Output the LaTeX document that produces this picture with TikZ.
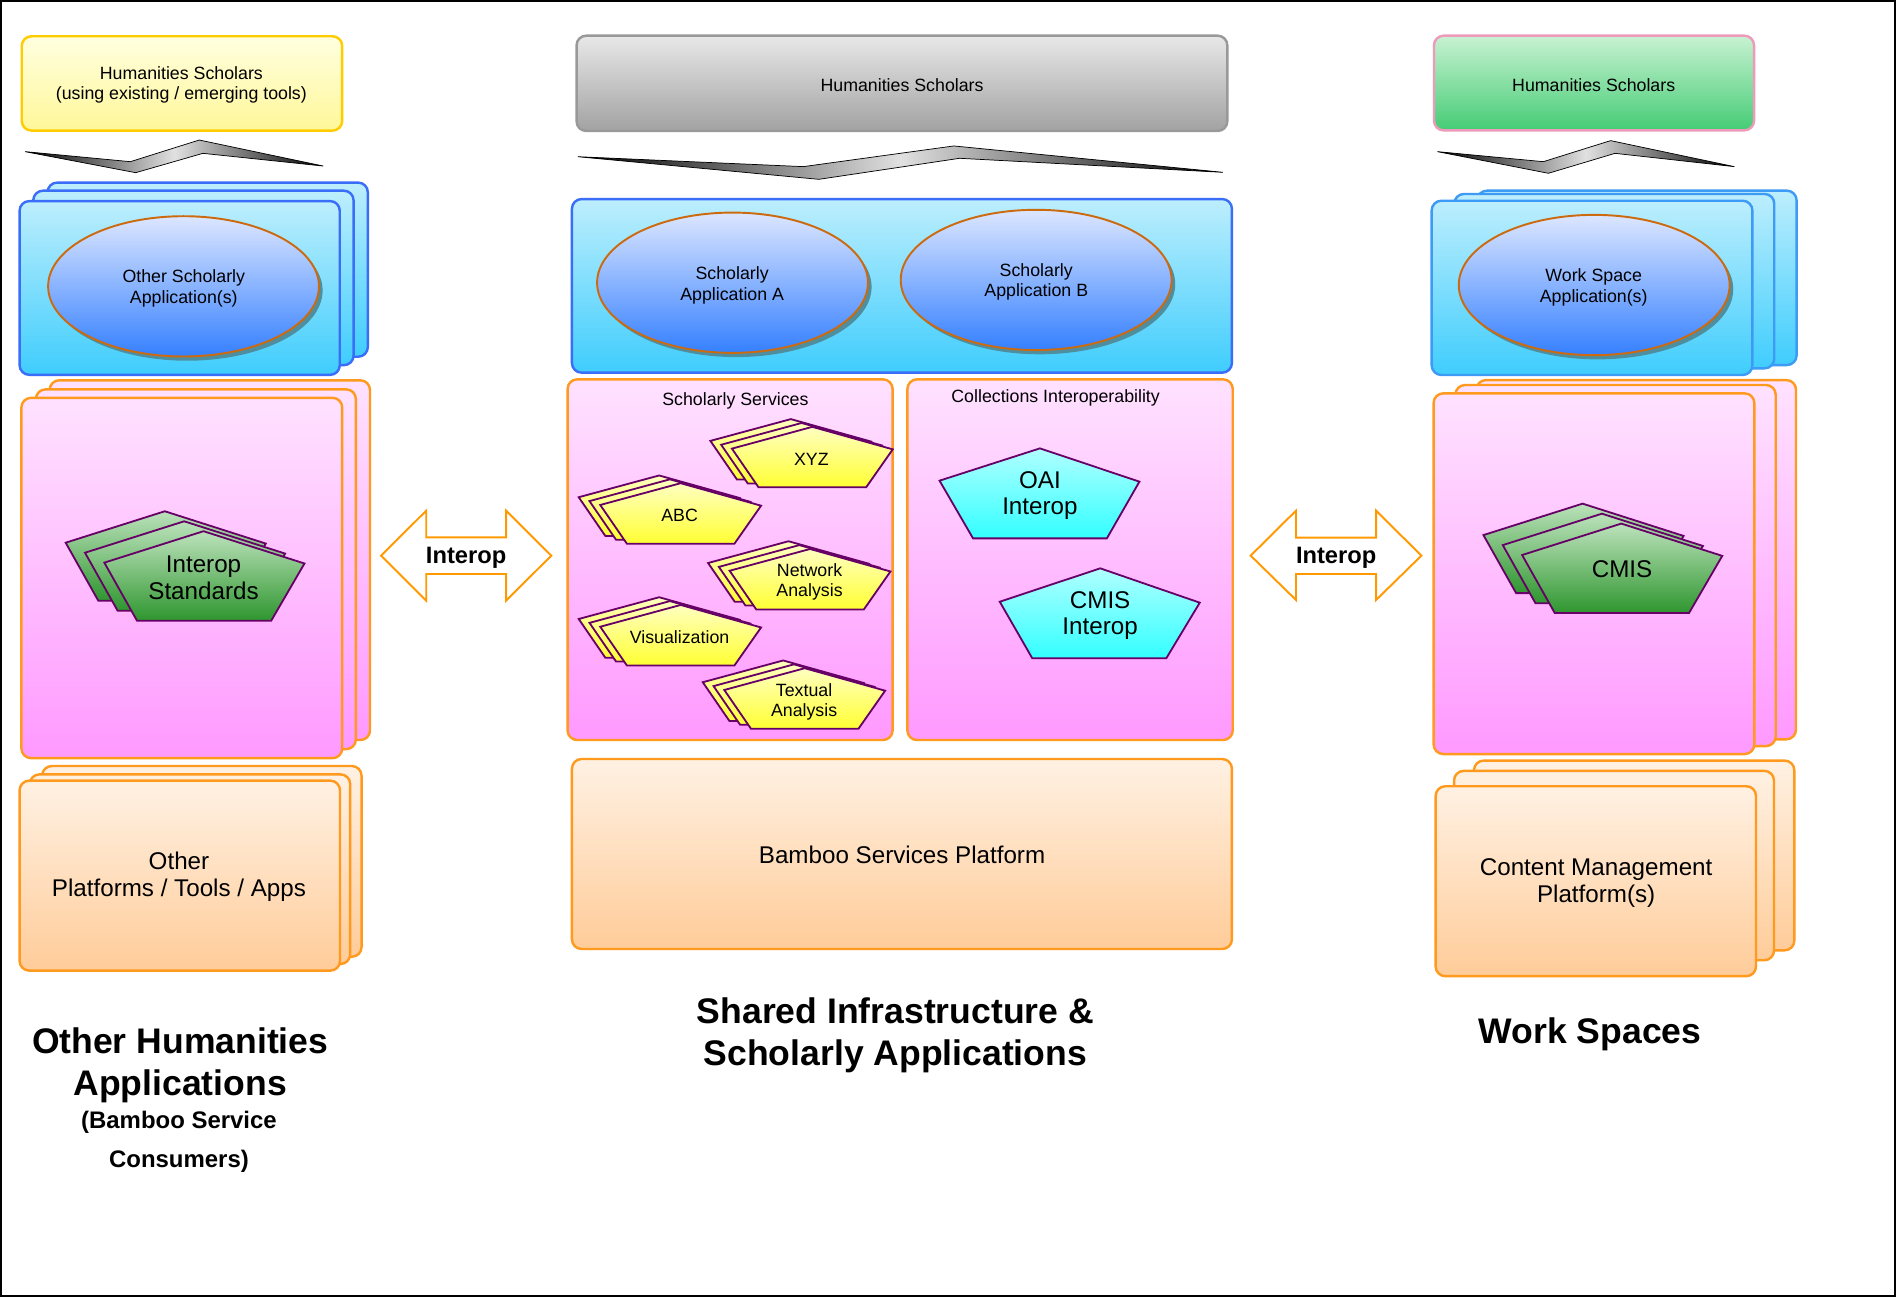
\documentclass[tikz,border=0pt]{standalone}
\usepackage{fontspec}
\setmainfont{Liberation Sans}
\definecolor{pinkT}{HTML}{FFE2FF}
\definecolor{pinkB}{HTML}{FF99FF}
\definecolor{orangeL}{HTML}{FF9A1E}
\definecolor{blueT}{HTML}{BDEEFD}
\definecolor{blueBot}{HTML}{3FCDFD}
\definecolor{blueL}{HTML}{3A6EF8}
\definecolor{blueLb}{HTML}{3D9BF5}
\definecolor{ellT}{HTML}{DCE6FF}
\definecolor{ellBot}{HTML}{3580FF}
\definecolor{ellL}{HTML}{CC6A10}
\definecolor{ellS}{HTML}{4F8E9E}
\definecolor{peachT}{HTML}{FFF1E3}
\definecolor{peachB}{HTML}{FFCC99}
\definecolor{yelT}{HTML}{FFFFE0}
\definecolor{yelB}{HTML}{FFF799}
\definecolor{yelL}{HTML}{FFCC00}
\definecolor{grayT}{HTML}{E8E8E8}
\definecolor{grayB}{HTML}{A2A2A2}
\definecolor{grayL}{HTML}{999999}
\definecolor{grnT}{HTML}{C8F2D2}
\definecolor{grnB}{HTML}{45CC75}
\definecolor{grnL}{HTML}{EE9ABB}
\definecolor{gpT}{HTML}{BCE2BC}
\definecolor{gpB}{HTML}{2E962E}
\definecolor{pentL}{HTML}{660066}
\definecolor{ypT}{HTML}{FFFFC0}
\definecolor{ypB}{HTML}{FFFF33}
\definecolor{cyT}{HTML}{B0FFFF}
\definecolor{cyB}{HTML}{33FFFF}
\definecolor{arrL}{HTML}{FF9900}
\tikzset{
  boxbase/.style={line width=1pt, rounded corners=4pt},
  pinkbox/.style={boxbase, draw=orangeL, top color=pinkT, bottom color=pinkB},
  peachbox/.style={boxbase, draw=orangeL, top color=peachT, bottom color=peachB},
  bluebox/.style={boxbase, draw=blueL, top color=blueT, bottom color=blueBot},
  blueboxb/.style={boxbase, draw=blueLb, top color=blueT, bottom color=blueBot},
  yelbox/.style={boxbase, draw=yelL, top color=yelT, bottom color=yelB},
  graybox/.style={boxbase, draw=grayL, top color=grayT, bottom color=grayB},
  grnbox/.style={boxbase, draw=grnL, top color=grnT, bottom color=grnB},
  ellfill/.style={draw=ellL, line width=0.8pt, top color=ellT, bottom color=ellBot},
  ribbon/.style={left color=black, right color=black, middle color=black!12, draw=black, line width=0.3pt, line join=miter},
  gpent/.style={draw=pentL, line width=0.75pt, top color=gpT, bottom color=gpB, line join=miter},
  ypent/.style={draw=pentL, line width=0.75pt, top color=ypT, bottom color=ypB, line join=miter},
  cpent/.style={draw=pentL, line width=0.75pt, top color=cyT, bottom color=cyB, line join=miter},
  dblarrow/.style={draw=arrL, line width=0.8pt, fill=white, line join=miter},
  smalltxt/.style={font=\fontsize{7.35pt}{8.5pt}\selectfont, align=center, inner sep=0pt, yshift=-0.9pt},
  medtxt/.style={font=\fontsize{10pt}{11pt}\selectfont, align=center, inner sep=0pt, yshift=-1.1pt},
  arrtxt/.style={font=\fontsize{9.8pt}{11pt}\selectfont\bfseries, align=center, inner sep=0pt, yshift=-1pt},
  bigtxt/.style={font=\fontsize{14.7pt}{17.5pt}\selectfont\bfseries, align=center, inner sep=0pt, yshift=-1.8pt},
  subtxt/.style={font=\fontsize{9.9pt}{16pt}\selectfont\bfseries, align=center, inner sep=0pt, yshift=-1.1pt}
}
\newcommand{\ypentat}[2]{\draw[ypent] (#1,#2) -- ++(66.5,-18) -- ++(66.5,18.6) -- ++(-22,31.4) -- ++(-89,0) -- cycle;}
\newcommand{\ystack}[2]{\ypentat{#1-17.8}{#2-6.4}\ypentat{#1-8.9}{#2-3.2}\ypentat{#1}{#2}}
\newcommand{\gpentat}[2]{\draw[gpent] (#1,#2) -- ++(82,-26) -- ++(83.5,26.7) -- ++(-27.5,47.3) -- ++(-111,0) -- cycle;}
\newcommand{\gstack}[2]{\gpentat{#1-32}{#2-16.5}\gpentat{#1-16}{#2-8.2}\gpentat{#1}{#2}}
\newcommand{\appell}[2]{\fill[ellS] (#1+3,#2+3.5) ellipse [x radius=56pt, y radius=29pt];
  \draw[ellfill] (#1,#2) ellipse [x radius=56pt, y radius=29pt];}
\begin{document}
\begin{tikzpicture}[x=0.5pt, y=-0.5pt]
\useasboundingbox (0,0) rectangle (1568,1073);
\fill[white] (0,0) rectangle (1568,1073);

% ================= LEFT COLUMN =================
\draw[yelbox] (18,30) rectangle (283,108);
\node[smalltxt] (lhs) at (150,68.5) {Humanities Scholars\\(using existing / emerging tools)};
\draw[ribbon] (20.7,125.4) -- (107.8,133.7) -- (164.8,115.8) -- (267.3,137.3) -- (167.8,126.8) -- (112.2,142.8) -- cycle;

\draw[bluebox] (39.3,151) rectangle (304.2,295);
\draw[bluebox] (27.5,157.7) rectangle (292.4,302);
\draw[bluebox] (16.2,166.3) rectangle (281,310);
\appell{151.8}{236.8}
\node[smalltxt] (losa) at (152,236.5) {Other Scholarly\\Application(s)};

\draw[pinkbox] (41,314.5) rectangle (306,612);
\draw[pinkbox] (29.7,322) rectangle (294.3,619.5);
\draw[pinkbox] (17.7,329) rectangle (283,627);
\gstack{86.3}{465.3}
\node[medtxt] (lis) at (168.3,475.5) {Interop\\Standards};

\draw[peachbox] (34.8,633.5) rectangle (299,791.2);
\draw[peachbox] (24.6,640.4) rectangle (289.6,797.2);
\draw[peachbox] (16.2,645.6) rectangle (281.2,802.7);
\node[medtxt] (lopt) at (148,723) {Other\\Platforms / Tools / Apps};

\node[bigtxt] (loha) at (149,877.5) {Other Humanities\\Applications};
\node[subtxt] (lbsc) at (148,942) {(Bamboo Service\\Consumers)};

% left double arrow
\draw[dblarrow] (315.2,459.5) -- (352.5,422.3) -- (352.5,444.4) -- (418.5,444.4) -- (418.5,422.3) -- (455.9,459.5) -- (418.5,496.8) -- (418.5,474.7) -- (352.5,474.7) -- (352.5,496.8) -- cycle;
\node[arrtxt] (lint) at (385.5,459.5) {Interop};

% ================= MIDDLE COLUMN =================
\draw[graybox] (476.8,29.5) rectangle (1015,108.3);
\node[smalltxt] (mhs) at (746,69) {Humanities Scholars};
\draw[ribbon] (477.9,129.6) -- (664.3,137.8) -- (788.8,120.7) -- (1011.4,142.5) -- (793.6,130.9) -- (677.2,148.3) -- cycle;

\draw[bluebox] (473,164.6) rectangle (1018.8,308.2);
\appell{605.8}{233.8}
\node[smalltxt] (msa) at (605.5,234) {Scholarly\\Application A};
\appell{856.9}{231.5}
\node[smalltxt] (msb) at (857,231.5) {Scholarly\\Application B};

\draw[pinkbox] (469.4,313.7) rectangle (738.2,612);
\node[smalltxt] (mss) at (608.2,329.5) {Scholarly Services};
\draw[pinkbox] (750.4,313.7) rectangle (1019.5,612);
\node[smalltxt] (mci) at (873,327.2) {Collections Interoperability};

\ystack{605.3}{371}
\node[smalltxt] (pxyz) at (671,378) {XYZ};
\ystack{496.4}{417.6}
\node[smalltxt] (pabc) at (562,424) {ABC};
\ystack{603.4}{472}
\node[smalltxt] (pna) at (669.5,479.3) {Network\\Analysis};
\ystack{496.4}{518.3}
\node[smalltxt] (pvis) at (562,525.2) {Visualization};
\ystack{599}{570.6}
\node[smalltxt] (pta) at (665,578.5) {Textual\\Analysis};

\draw[cpent] (777,397.5) -- (860,370.8) -- (942.3,398.3) -- (915.4,445.2) -- (804.7,445.2) -- cycle;
\node[medtxt] (poai) at (860,407.5) {OAI\\Interop};
\draw[cpent] (826.8,497.6) -- (909.9,470) -- (992.2,498.4) -- (964.5,544.4) -- (853.7,544.4) -- cycle;
\node[medtxt] (pcmi) at (909.8,506.8) {CMIS\\Interop};

\draw[peachbox] (473,627.7) rectangle (1018.8,784.8);
\node[medtxt] (mbsp) at (746,705) {Bamboo Services Platform};

\node[bigtxt] (msi) at (740.5,852.5) {Shared Infrastructure \&\\Scholarly Applications};

% right double arrow
\draw[dblarrow] (1034.3,459.5) -- (1071.8,422.3) -- (1071.8,444.6) -- (1138,444.6) -- (1138,422.3) -- (1175.5,459.5) -- (1138,496.2) -- (1138,474.7) -- (1071.8,474.7) -- (1071.8,496.2) -- cycle;
\node[arrtxt] (rint) at (1105,459.5) {Interop};

% ================= RIGHT COLUMN =================
\draw[grnbox] (1185.9,29.5) rectangle (1450.6,107.8);
\node[smalltxt] (rhs) at (1318,69) {Humanities Scholars};
\draw[ribbon] (1188.7,125.4) -- (1276.3,133.7) -- (1332,116.3) -- (1434.3,137.8) -- (1335.6,126.8) -- (1280.5,143.3) -- cycle;

\draw[blueboxb] (1221.7,157.7) rectangle (1485.8,301.9);
\draw[blueboxb] (1202.7,160.4) rectangle (1467.3,304.6);
\draw[blueboxb] (1184,166) rectangle (1449.2,310.1);
\appell{1318.4}{235.7}
\node[smalltxt] (rwsa) at (1318,236) {Work Space\\Application(s)};

\draw[pinkbox] (1221,314.3) rectangle (1485.3,611.4);
\draw[pinkbox] (1203.6,318.4) rectangle (1468.5,617);
\draw[pinkbox] (1185.6,325.3) rectangle (1450.8,623.6);
\gstack{1258.8}{459}
\node[medtxt] (rcmis) at (1341.4,468.8) {CMIS};

\draw[peachbox] (1219,629) rectangle (1483.9,785.9);
\draw[peachbox] (1202.5,637.5) rectangle (1467.1,794.1);
\draw[peachbox] (1187.3,650.2) rectangle (1452.2,807.3);
\node[medtxt] (rcmp) at (1320,728.3) {Content Management\\Platform(s)};

\node[bigtxt] (rws) at (1315,851.5) {Work Spaces};

% frame
\draw[line width=1pt] (1,1) rectangle (1567,1072);
\end{tikzpicture}
\end{document}
